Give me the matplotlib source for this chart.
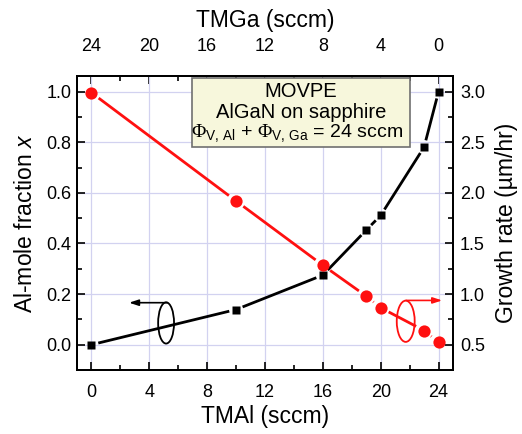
import numpy as np
import matplotlib
matplotlib.use("Agg")
import matplotlib.pyplot as plt
from matplotlib.patches import Ellipse, Rectangle
from matplotlib.ticker import MultipleLocator, AutoMinorLocator

plt.rcParams['font.family'] = ['Liberation Sans', 'DejaVu Sans']
plt.rcParams['mathtext.fontset'] = 'custom'
plt.rcParams['mathtext.rm'] = 'Liberation Serif'
plt.rcParams['mathtext.sf'] = 'Liberation Sans'
plt.rcParams['mathtext.it'] = 'Liberation Sans:italic'
plt.rcParams['mathtext.bf'] = 'Liberation Sans:bold'

# TMAl flow (sccm); TMGa flow is the remainder of 24 sccm
tmal = [0, 10, 16, 19, 20, 23, 24]
al_fraction = [0.0, 0.139, 0.275, 0.453, 0.511, 0.781, 1.0]
growth_rate = [2.99, 1.92, 1.285, 0.98, 0.865, 0.64, 0.525]

x_ticks = [0, 4, 8, 12, 16, 20, 24]
top_tick_labels = ['24', '20', '16', '12', '8', '4', '0']

RED = '#ff1010'
GRID = '#d2d2f0'
TICK_FS = 13
LABEL_FS = 16.5

fig = plt.figure(figsize=(5.22, 4.34), dpi=100)
ax = fig.add_axes([77 / 522, 64 / 434, 376 / 522, 294 / 434])
ax2 = ax.twinx()

ax.set_xlim(-1, 25)
ax.set_ylim(-0.1, 1.062)
ax2.set_ylim(0.25, 0.5 + 1.062 * 2.5)

# grid
ax.set_xticks(x_ticks)
ax.set_yticks([0.0, 0.2, 0.4, 0.6, 0.8, 1.0])
ax.grid(True, color=GRID, lw=0.9)
ax.set_axisbelow(True)
ax.xaxis.set_minor_locator(AutoMinorLocator(2))
ax.yaxis.set_minor_locator(AutoMinorLocator(2))
ax.set_yticklabels(['0.0', '0.2', '0.4', '0.6', '0.8', '1.0'])
ax2.set_yticks([0.5, 1.0, 1.5, 2.0, 2.5, 3.0])
ax2.set_yticklabels(['0.5', '1.0', '1.5', '2.0', '2.5', '3.0'])
ax2.yaxis.set_minor_locator(AutoMinorLocator(2))

for a in (ax, ax2):
    for s in a.spines.values():
        s.set_linewidth(1.4)
    a.tick_params(which='major', direction='in', length=6, width=1.2, labelsize=TICK_FS)
    a.tick_params(which='minor', direction='in', length=3.5, width=1.2)
ax.tick_params(axis='x', which='both', bottom=True, top=False, pad=10)
ax.tick_params(axis='y', which='both', left=True, right=False, pad=4)
ax2.tick_params(axis='y', which='both', right=True, left=False, pad=5)

# top axis: TMGa flow
top = ax.secondary_xaxis('top', functions=(lambda v: 24 - v, lambda v: 24 - v))
top.set_xticks([24, 20, 16, 12, 8, 4, 0])
top.set_xticklabels(top_tick_labels)
top.xaxis.set_minor_locator(MultipleLocator(2))
top.tick_params(which='major', direction='in', length=6, width=1.2, labelsize=TICK_FS, pad=15)
top.tick_params(which='minor', direction='in', length=3.5, width=1.2)
top.spines['top'].set_linewidth(1.4)
top.set_xlabel('TMGa (sccm)', fontsize=LABEL_FS, labelpad=8)

ax.set_xlabel('TMAl (sccm)', fontsize=LABEL_FS, labelpad=3)
ax.set_ylabel('Al-mole fraction $x$', fontsize=LABEL_FS, labelpad=7)
ax2.set_ylabel('Growth rate (\u00b5m/hr)', fontsize=LABEL_FS, labelpad=7)


def gapped_line(axis, xs, ys, color, gap, lw):
    pts = axis.transData.transform(np.column_stack([xs, ys]))
    inv = axis.transData.inverted()
    for p, q in zip(pts[:-1], pts[1:]):
        d = q - p
        L = np.hypot(*d)
        if L <= 2 * gap + 0.5:
            continue
        u = d / L
        a_, b_ = inv.transform([p + u * gap, q - u * gap])
        axis.plot([a_[0], b_[0]], [a_[1], b_[1]], color=color, lw=lw,
                  solid_capstyle='butt', scalex=False, scaley=False, zorder=2)


gapped_line(ax2, tmal, growth_rate, RED, 9.0, 2.0)
ax2.plot(tmal, growth_rate, 'o', color=RED, ms=8.8, mec='none',
         scalex=False, scaley=False, zorder=3)
gapped_line(ax, tmal, al_fraction, 'black', 7.0, 2.0)
ax.plot(tmal, al_fraction, 's', color='black', ms=5.2, mec='none',
        scalex=False, scaley=False, zorder=3)

# axis-assignment markers (ellipse + arrow)
ax.add_patch(Ellipse((5.16, 0.086), 1.1, 0.163, fill=False, ec='black', lw=1.3, zorder=4))
ax.annotate('', xy=(2.6, 0.166), xytext=(5.25, 0.166),
            arrowprops=dict(arrowstyle='-|>,head_length=0.55,head_width=0.18',
                            color='black', lw=1.2, shrinkA=0, shrinkB=0))
ax.add_patch(Ellipse((21.73, 0.0926), 1.24, 0.163, fill=False, ec=RED, lw=1.3, zorder=4))
ax.annotate('', xy=(24.25, 0.175), xytext=(21.75, 0.175),
            arrowprops=dict(arrowstyle='-|>,head_length=0.55,head_width=0.18',
                            color=RED, lw=1.2, shrinkA=0, shrinkB=0))

# info box
x0, x1 = (192 - 77) / 376, (410 - 77) / 376
y0, y1 = (370 - 147) / 294, (370 - 78) / 294
ax2.add_patch(Rectangle((x0, y0), x1 - x0, y1 - y0, transform=ax2.transAxes,
                        fc='#f7f7dc', ec='#707070', lw=1.2, zorder=5))
xc = (x0 + x1) / 2
ax2.text(xc, (370 - 96.7) / 294, 'MOVPE', transform=ax2.transAxes, ha='center',
         va='baseline', fontsize=14.5, zorder=6)
ax2.text(xc, (370 - 118.3) / 294, 'AlGaN on sapphire', transform=ax2.transAxes,
         ha='center', va='baseline', fontsize=14.5, zorder=6)
ax2.text(xc - 0.01, (370 - 136.7) / 294,
         r'$\Phi_{\mathsf{V,\,Al}}$ + $\Phi_{\mathsf{V,\,Ga}}$ = 24 sccm',
         transform=ax2.transAxes, ha='center', va='baseline', fontsize=14, zorder=6)

fig.savefig('out.png', dpi=100)
